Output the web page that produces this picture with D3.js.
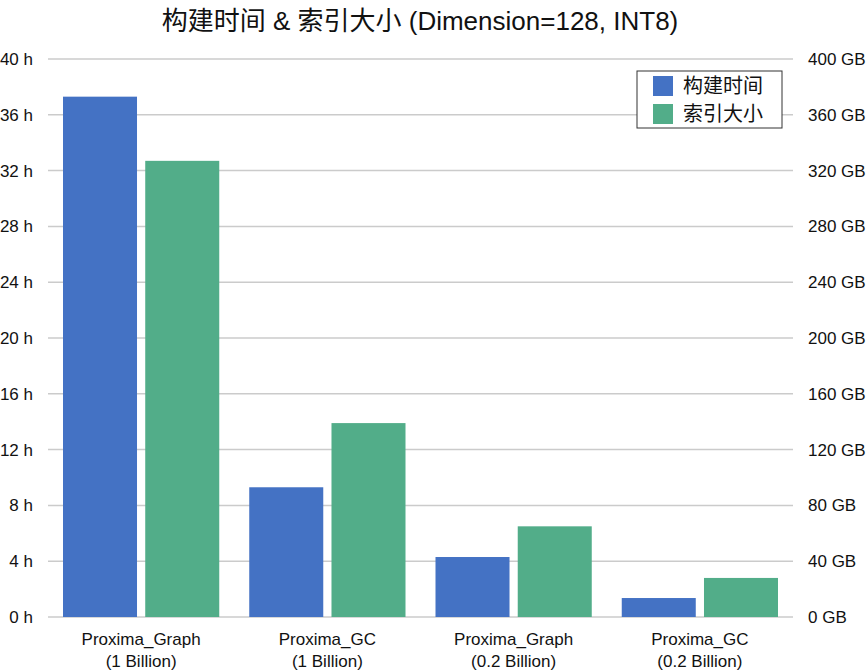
<!DOCTYPE html>
<html>
<head>
<meta charset="utf-8">
<script src="https://cdn.jsdelivr.net/npm/d3@7"></script>
<style>
  body { margin: 0; background: #fff; }
  text { font-family: "Liberation Sans", Arial, "Noto Sans CJK SC", sans-serif; fill: #111; }
</style>
</head>
<body>
<svg id="chart" width="866" height="670"></svg>
<script>
// data
const groups = ["Proxima_Graph\n(1 Billion)", "Proxima_GC\n(1 Billion)", "Proxima_Graph\n(0.2 Billion)", "Proxima_GC\n(0.2 Billion)"];
const buildHours = [37.3, 9.3, 4.3, 1.36];
const indexGB = [327, 139, 65, 28];
const hourTicks = [0, 4, 8, 12, 16, 20, 24, 28, 32, 36, 40];
const gbTicks = [0, 40, 80, 120, 160, 200, 240, 280, 320, 360, 400];
const seriesNames = ["构建时间", "索引大小"];
const colors = ["#4472C4", "#52AD89"];

const svg = d3.select("#chart");
const plotL = 48, plotR = 793, plotT = 59, plotB = 617;

const x0 = d3.scaleBand().domain(groups).range([plotL, plotR]).paddingInner(0).paddingOuter(0);
const x1 = d3.scaleBand().domain([0, 1]).range([15, x0.bandwidth() - 15]).paddingInner(0.1);
const yL = d3.scaleLinear().domain([0, 40]).range([plotB, plotT]);
const yR = d3.scaleLinear().domain([0, 400]).range([plotB, plotT]);

// gridlines
svg.append("g").selectAll("line")
  .data(hourTicks)
  .join("line")
  .attr("x1", plotL).attr("x2", plotR)
  .attr("y1", d => yL(d)).attr("y2", d => yL(d))
  .attr("stroke", "#cbcbcb").attr("stroke-width", 1.5);

// left axis
const axL = svg.append("g").attr("transform", `translate(${plotL},0)`)
  .call(d3.axisLeft(yL).tickValues(hourTicks).tickFormat(d => d + " h").tickSize(0).tickPadding(15));
axL.select(".domain").remove();
axL.selectAll("text").style("font-size", "17px").attr("fill", "#111");

// right axis
const axR = svg.append("g").attr("transform", `translate(${plotR},0)`)
  .call(d3.axisRight(yR).tickValues(gbTicks).tickFormat(d => d + " GB").tickSize(0).tickPadding(15));
axR.select(".domain").remove();
axR.selectAll("text").style("font-size", "17px").attr("fill", "#111");

// bars
const g = svg.append("g").selectAll("g")
  .data(groups)
  .join("g")
  .attr("transform", d => `translate(${x0(d)},0)`);

g.append("rect")
  .attr("x", x1(0)).attr("width", x1.bandwidth())
  .attr("y", (d, i) => yL(buildHours[i]))
  .attr("height", (d, i) => plotB - yL(buildHours[i]))
  .attr("fill", colors[0]);

g.append("rect")
  .attr("x", x1(1)).attr("width", x1.bandwidth())
  .attr("y", (d, i) => yR(indexGB[i]))
  .attr("height", (d, i) => plotB - yR(indexGB[i]))
  .attr("fill", colors[1]);

// x labels
g.append("text")
  .attr("text-anchor", "middle")
  .style("font-size", "17px")
  .selectAll("tspan")
  .data(d => d.split("\n"))
  .join("tspan")
  .attr("x", x0.bandwidth() / 2)
  .attr("y", (d, i) => 645 + i * 22)
  .text(d => d);

// title
svg.append("text")
  .attr("x", 420).attr("y", 30)
  .attr("text-anchor", "middle")
  .style("font-size", "26px")
  .text("构建时间 & 索引大小 (Dimension=128, INT8)");

// legend
const lg = svg.append("g").attr("transform", "translate(637,71)");
lg.append("rect").attr("width", 145).attr("height", 57)
  .attr("fill", "#fff").attr("stroke", "#333").attr("stroke-width", 1);
seriesNames.forEach((name, i) => {
  lg.append("rect").attr("x", 16).attr("y", 5 + i * 28).attr("width", 20).attr("height", 20).attr("fill", colors[i]);
  lg.append("text").attr("x", 46).attr("y", 22 + i * 28).style("font-size", "20px").text(name);
});
</script>
</body>
</html>
